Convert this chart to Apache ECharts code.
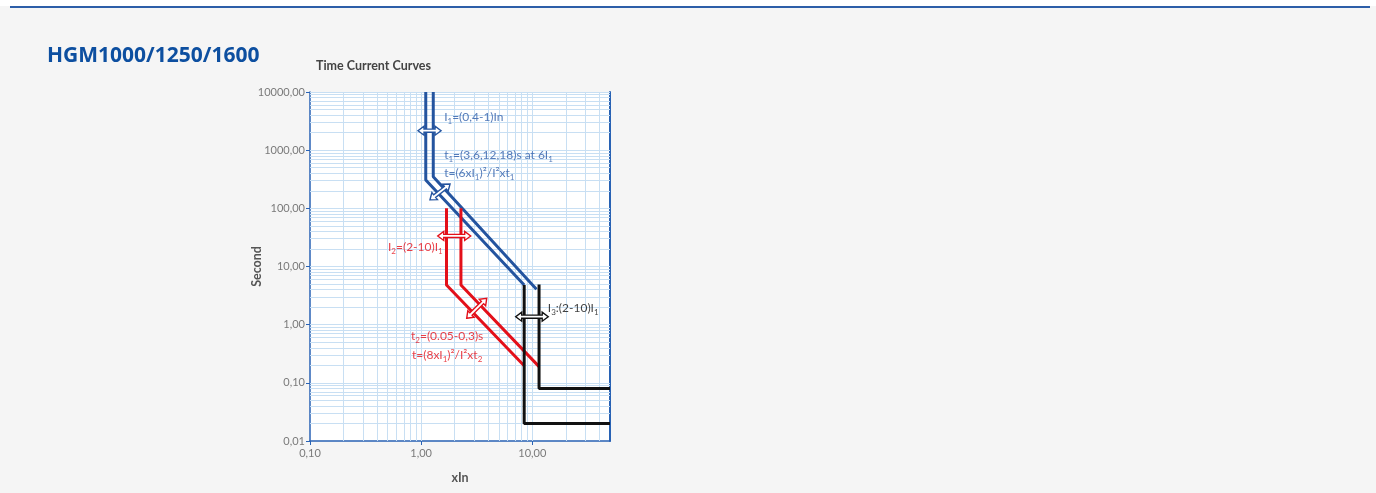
<!DOCTYPE html>
<html><head><meta charset="utf-8">
<script src="https://cdn.jsdelivr.net/npm/echarts@6/dist/echarts.min.js"></script>
<style>
html,body{margin:0;padding:0;background:#f5f5f5;overflow:hidden;}
#top{position:absolute;left:0;top:0;width:1376px;height:6px;background:#fff;}
#rule{position:absolute;left:10px;top:6px;width:1360px;height:2px;background:#2d5ea8;}
#c{position:absolute;left:0;top:0;width:1376px;height:493px;}
</style></head>
<body><div id="top"></div><div id="rule"></div><div id="c"></div>
<script>
// ---- data ----
const chartTitle = 'HGM1000/1250/1600';
const plotTitle = 'Time Current Curves';
const xName = 'xIn';
const yName = 'Second';
const xTicks = [0.1, 1, 10];
const yTicks = [0.01, 0.1, 1, 10, 100, 1000, 10000];
const xRange = [0.1, 50];
const yRange = [0.01, 10000];

const blueCurveA = [[1.10, 10000], [1.10, 307], [8.45, 4.8]];
const blueCurveB = [[1.285, 10000], [1.285, 350], [10.9, 4.06]];
const redCurveA = [[1.69, 100], [1.69, 4.8], [8.45, 0.197]];
const redCurveB = [[2.28, 100], [2.28, 4.8], [11.5, 0.19]];
const blackCurveA = [[8.45, 4.8], [8.45, 0.02], [50, 0.02]];
const blackCurveB = [[11.5, 4.9], [11.5, 0.08], [50, 0.08]];

// double-headed arrows: [x1, y1, x2, y2]
const blueArrows = [[0.937, 2160, 1.51, 2160], [1.20, 140, 1.82, 262]];
const redArrows = [[1.41, 33.5, 2.79, 33.5], [2.57, 1.29, 3.89, 2.84]];
const blackArrows = [[7.09, 1.37, 13.9, 1.37]];

const blueNotes = [
  [1.61, 3715, 'I{s|1}=(0,4-1)In'],
  [1.61, 826, 't{s|1}=(3,6,12,18)s at 6I{s|1}'],
  [1.61, 405, 't=(6xI{s|1})²/I²xt{s|1}']
];
const redNotes = [
  [0.503, 21.6, 'I{s|2}=(2-10)I{s|1}'],
  [0.81, 0.639, 't{s|2}=(0.05-0,3)s'],
  [0.827, 0.301, 't=(8xI{s|1})²/I²xt{s|2}']
];
const blackNotes = [
  [13.8, 1.94, 'I{s|3}:(2-10)I{s|1}']
];

// ---- styles ----
const C_BLUE = '#24549f', C_RED = '#e3101a', C_BLACK = '#111111';
const C_AXIS = '#2862b4', C_GRID = '#c8dff3';
const FONT = 'Lato';

function fmt(v) { return v.toFixed(2).replace('.', ','); }

const gridX = [], gridY = [];
for (let e = -1; e <= 1; e++) for (let m = 1; m <= 9; m++) { const v = m * Math.pow(10, e); if (v > xRange[0] && v < xRange[1]) gridX.push(v); }
for (let e = -2; e <= 3; e++) for (let m = 1; m <= 9; m++) { const v = m * Math.pow(10, e); if (v > yRange[0] && v < yRange[1]) gridY.push(v); }
gridY.push(yRange[1]);

function curve(data, color) {
  return { type: 'line', data: data, symbol: 'none', z: 5, silent: true,
    lineStyle: { color: color, width: 3 }, animation: false };
}
function arrowSeries(arrows, color) {
  return { type: 'custom', z: 7, silent: true, animation: false, clip: false,
    data: arrows,
    renderItem: function (params, api) {
      const p1 = api.coord([api.value(0), api.value(1)]);
      const p2 = api.coord([api.value(2), api.value(3)]);
      const dx = p2[0] - p1[0], dy = p2[1] - p1[1];
      const L = Math.sqrt(dx * dx + dy * dy);
      const u = [dx / L, dy / L], n = [-u[1], u[0]];
      const hl = 6, hw = 4.5, sw = 1.6;
      const P = (b, a, k) => [b[0] + u[0] * a + n[0] * k, b[1] + u[1] * a + n[1] * k];
      const pts = [p1, P(p1, hl, hw), P(p1, hl, sw), P(p2, -hl, sw), P(p2, -hl, hw), p2,
        P(p2, -hl, -hw), P(p2, -hl, -sw), P(p1, hl, -sw), P(p1, hl, -hw)];
      return { type: 'polygon', shape: { points: pts },
        style: { fill: '#ffffff', stroke: color, lineWidth: 1.4, lineJoin: 'miter' } };
    } };
}
function notes(list, color) {
  return { type: 'scatter', symbolSize: 0, z: 8, silent: true, animation: false,
    data: list.map(n => ({ value: [n[0], n[1]], name: n[2] })),
    label: { show: true, position: 'right', distance: 0, formatter: p => p.name,
      color: color, fontFamily: FONT, fontSize: 12, lineHeight: 16,
      rich: { s: { fontSize: 8, color: color, fontFamily: FONT, verticalAlign: 'bottom', lineHeight: 9 } } } };
}

const chart = echarts.init(document.getElementById('c'), null, { renderer: 'canvas' });
chart.setOption({
  backgroundColor: 'transparent',
  animation: false,
  title: [
    { text: chartTitle, left: 42, top: 41, textStyle: { color: '#0d4fa0', fontSize: 21, fontWeight: 'bold', fontFamily: 'Open Sans' } },
    { text: plotTitle, left: 311, top: 54, textStyle: { color: '#444', fontSize: 12.5, fontWeight: 'bold', fontFamily: FONT } }
  ],
  grid: { left: 310, top: 92, width: 300, height: 349, show: true, backgroundColor: '#ffffff', borderWidth: 0 },
  xAxis: { type: 'log', logBase: 10, min: xRange[0], max: xRange[1], name: xName, nameLocation: 'middle', nameGap: 30,
    nameTextStyle: { color: '#555', fontWeight: 'bold', fontSize: 12.5, fontFamily: FONT },
    axisLine: { show: true, lineStyle: { color: C_AXIS, width: 1.5 } },
    axisTick: { show: true, length: 4, lineStyle: { color: C_AXIS }, customValues: xTicks },
    axisLabel: { color: '#7a7a7a', fontSize: 11, fontFamily: FONT, margin: 7, customValues: xTicks, formatter: v => fmt(v) },
    splitLine: { show: false } },
  yAxis: [
    { type: 'log', logBase: 10, min: yRange[0], max: yRange[1], name: yName, nameLocation: 'middle', nameGap: 47, nameRotate: 90,
      nameMoveOverlap: false,
      nameTextStyle: { color: '#555', fontWeight: 'bold', fontSize: 12.5, fontFamily: FONT },
      axisLine: { show: true, lineStyle: { color: C_AXIS, width: 1.5 } },
      axisTick: { show: true, length: 4, lineStyle: { color: C_AXIS }, customValues: yTicks },
      axisLabel: { color: '#7a7a7a', fontSize: 11, fontFamily: FONT, margin: 5, customValues: yTicks, formatter: v => fmt(v) },
      splitLine: { show: false } },
    { type: 'log', logBase: 10, min: yRange[0], max: yRange[1], position: 'right',
      axisLine: { show: true, lineStyle: { color: C_AXIS, width: 2 } },
      axisTick: { show: false }, axisLabel: { show: false }, splitLine: { show: false } }
  ],
  series: [
    { type: 'line', data: [], z: 1, silent: true, animation: false,
      markLine: { silent: true, animation: false, symbol: 'none', label: { show: false },
        lineStyle: { color: C_GRID, width: 1, type: 'solid' },
        data: gridX.map(v => ({ xAxis: v })).concat(gridY.map(v => ({ yAxis: v }))) } },
    curve(blueCurveA, C_BLUE), curve(blueCurveB, C_BLUE),
    curve(redCurveA, C_RED), curve(redCurveB, C_RED),
    curve(blackCurveA, C_BLACK), curve(blackCurveB, C_BLACK),
    arrowSeries(blueArrows, C_BLUE), arrowSeries(redArrows, C_RED), arrowSeries(blackArrows, C_BLACK),
    notes(blueNotes, '#2a5aa8'), notes(redNotes, C_RED), notes(blackNotes, C_BLACK)
  ]
});
</script></body></html>
